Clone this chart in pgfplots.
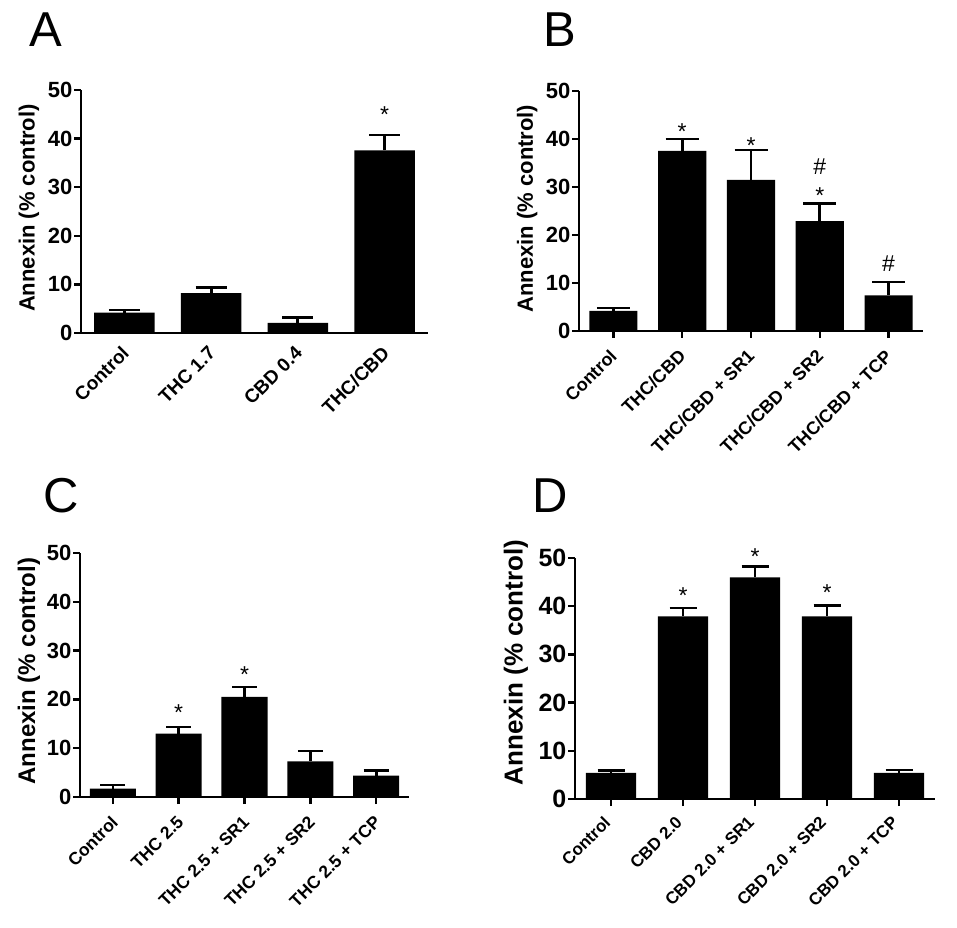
\documentclass[border=0pt]{standalone}
\usepackage{fontspec}
\setmainfont{Liberation Sans}
\usepackage{pgfplots}
\pgfplotsset{compat=1.18}
\pgfplotsset{
  panel/.style={
    scale only axis,
    axis x line=bottom, axis y line=left,
    axis line style={-, line width=2.5pt},
    ymin=0, ymax=50, ytick={0,10,20,30,40,50},
    enlargelimits=false,
    tick align=outside,
    major tick length=7pt,
    every tick/.style={black, line width=2.5pt},
    /pgf/number format/assume math mode=true,
    clip=false,
    ylabel={Annexin (\% control)},
    yticklabel style={font=\fontsize{22}{22}\selectfont\bfseries, inner sep=1.5pt},
    xticklabel style={font=\fontsize{17.5}{17.5}\selectfont\bfseries, rotate=45, anchor=north east, inner sep=0pt},
  },
  barsty/.style={ybar, bar width=0.7, bar shift=0pt, fill=black, draw=none,
    /pgfplots/error bars/y dir=plus, /pgfplots/error bars/y explicit,
    /pgfplots/error bars/error bar style={line width=2.8pt, black},
    /pgfplots/error bars/error mark options={rotate=90, line width=2.5pt, black, mark size=#1}},
  annot/.style={draw=none, mark=none, nodes near coords, point meta=explicit symbolic,
    every node near coord/.append style={font=\fontsize{23}{23}\selectfont, inner sep=0pt, black}},
}
\pgfplotstableread{
x y e
0 4.2 0.5
1 8.2 1.2
2 2.1 1.1
3 37.6 3.1
}\dataA
\pgfplotstableread{
x y e
0 4.2 0.6
1 37.5 2.5
2 31.5 6.2
3 22.9 3.7
4 7.4 2.8
}\dataB
\pgfplotstableread{
x y e
0 1.7 0.8
1 13.0 1.3
2 20.5 2.0
3 7.3 2.1
4 4.4 1.0
}\dataC
\pgfplotstableread{
x y e
0 5.4 0.5
1 37.9 1.7
2 46.0 2.2
3 37.9 2.2
4 5.4 0.6
}\dataD
\begin{document}
\begin{tikzpicture}
\path[use as bounding box] (0pt,0pt) rectangle (957pt,927pt);
% Panel A
\begin{axis}[panel, at={(81pt,594pt)}, anchor=south west, width=347pt, height=243pt,
  xmin=-0.5, xmax=3.5, xtick={0,1,2,3}, xtick style={draw=none},
  xticklabels={Control, THC 1.7, CBD 0.4, THC/CBD},
  xticklabel style={xshift=-6.1pt, yshift=-0.6pt, font=\fontsize{19}{19}\selectfont\bfseries},
  every axis y label/.style={at={(axis description cs:-0.150,0.514)}, rotate=90, anchor=center, font=\fontsize{22}{22}\selectfont\bfseries}]
\addplot[barsty=15.5pt] table[x=x, y=y, y error=e] {\dataA};
\addplot[annot] coordinates {(3,43.2) [*]};
\end{axis}
% Panel B
\begin{axis}[panel, at={(579pt,596pt)}, anchor=south west, width=344pt, height=240pt,
  xmin=-0.5, xmax=4.5, xtick={0,1,2,3,4},
  xticklabels={Control, THC/CBD, THC/CBD + SR1, THC/CBD + SR2, THC/CBD + TCP},
  xticklabel style={xshift=-10.4pt, yshift=-3.8pt, font=\fontsize{18}{18}\selectfont\bfseries},
  every axis y label/.style={at={(axis description cs:-0.151,0.51)}, rotate=90, anchor=center, font=\fontsize{22}{22}\selectfont\bfseries}]
\addplot[barsty=16.5pt] table[x=x, y=y, y error=e] {\dataB};
\addplot[annot] coordinates {(1,39.9) [*] (2,37.0) [*] (3,32.5) [\#] (3,26.5) [*] (4,12.4) [\#]};
\end{axis}
% Panel C
\begin{axis}[panel, at={(80pt,130pt)}, anchor=south west, width=329pt, height=244pt,
  xmin=-0.5, xmax=4.5, xtick={0,1,2,3,4},
  xticklabels={Control, THC 2.5, THC 2.5 + SR1, THC 2.5 + SR2, THC 2.5 + TCP},
  xticklabel style={xshift=-9.5pt, yshift=-5.5pt},
  every axis y label/.style={at={(axis description cs:-0.155,0.516)}, rotate=90, anchor=center, font=\fontsize{24}{24}\selectfont\bfseries}]
\addplot[barsty=12.5pt] table[x=x, y=y, y error=e] {\dataC};
\addplot[annot] coordinates {(1,15.6) [*] (2,23.5) [*]};
\end{axis}
% Panel D
\begin{axis}[panel, at={(575pt,128pt)}, anchor=south west, width=360pt, height=241pt,
  xmin=-0.5, xmax=4.5, xtick={0,1,2,3,4},
  xticklabels={Control, CBD 2.0, CBD 2.0 + SR1, CBD 2.0 + SR2, CBD 2.0 + TCP},
  xticklabel style={xshift=-12.1pt, yshift=-0.5pt, font=\fontsize{17}{17}\selectfont\bfseries},
  yticklabel style={font=\fontsize{25}{25}\selectfont\bfseries},
  every axis y label/.style={at={(axis description cs:-0.164,0.566)}, rotate=90, anchor=center, font=\fontsize{26}{26}\selectfont\bfseries}]
\addplot[barsty=13.5pt] table[x=x, y=y, y error=e] {\dataD};
\addplot[annot] coordinates {(1,40.6) [*] (2,48.6) [*] (3,41.1) [*]};
\end{axis}
% Panel letters
\node[anchor=base west, inner sep=0pt, font=\fontsize{49}{49}\selectfont] at (29pt,880pt) {A};
\node[anchor=base west, inner sep=0pt, font=\fontsize{49}{49}\selectfont] at (543pt,880pt) {B};
\node[anchor=base west, inner sep=0pt, font=\fontsize{49}{49}\selectfont] at (43pt,415pt) {C};
\node[anchor=base west, inner sep=0pt, font=\fontsize{49}{49}\selectfont] at (532pt,415pt) {D};
\end{tikzpicture}
\end{document}
